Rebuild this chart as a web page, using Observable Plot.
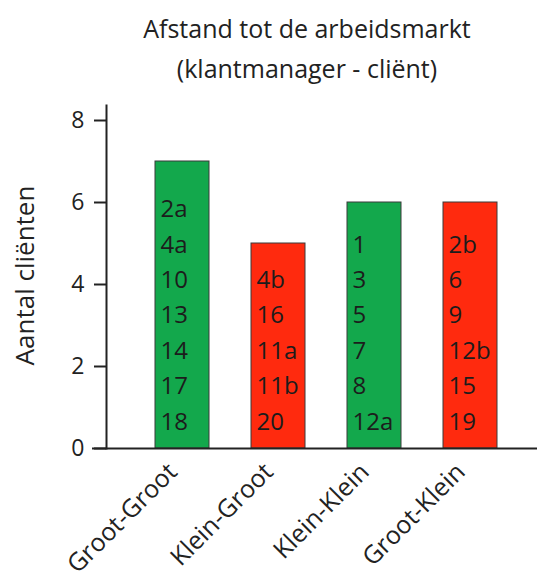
<!DOCTYPE html>
<html><head><meta charset="utf-8">
<script src="https://cdn.jsdelivr.net/npm/d3@7"></script>
<script src="https://cdn.jsdelivr.net/npm/@observablehq/plot@0.6"></script>
<style>
body{margin:0;background:#fff;font-family:"Open Sans",sans-serif;}
#title{width:537px;height:95px;box-sizing:border-box;padding:8px 0 0 77px;text-align:center;font-size:25px;line-height:40px;color:#222;}
</style></head><body>
<div id="title"><div>Afstand tot de arbeidsmarkt</div><div>(klantmanager - cliënt)</div></div>
<div id="chart"></div>
<script>
const categories = ["Groot-Groot","Klein-Groot","Klein-Klein","Groot-Klein"];
const counts = [7,5,6,6];
const groups = ["groen","rood","groen","rood"];
const clientLabels = [
 ["2a","4a","10","13","14","17","18"],
 ["4b","16","11a","11b","20"],
 ["1","3","5","7","8","12a"],
 ["2b","6","9","12b","15","19"]
];
const yTicks = [0,2,4,6,8];
const yLabel = "Aantal cliënten";
const colors = {groen:"#13a84c", rood:"#ff2a0e"};

const data = categories.map((c,i)=>({category:c,count:counts[i],group:groups[i],labels:clientLabels[i].join("\n")}));

const plot = Plot.plot({
  width:537, height:483,
  marginTop:25, marginBottom:130, marginLeft:106, marginRight:0,
  style:{fontFamily:'"Open Sans", sans-serif', fontSize:"24px", color:"#222", background:"#fff"},
  x:{domain:categories, range:[133,518], paddingInner:0.44, paddingOuter:0.22, axis:null},
  y:{domain:[0,8], axis:null},
  color:{domain:Object.keys(colors), range:Object.values(colors)},
  marks:[
    Plot.barY(data,{x:"category", y:"count", fill:"group", stroke:"#3a3a3a", strokeWidth:1}),
    Plot.text(data,{x:"category", y:0, text:"labels", textAnchor:"start", lineAnchor:"bottom", lineHeight:1.475, dx:-22, dy:-19, fill:"#1c1c1c", fontSize:24}),
    Plot.axisY({ticks:yTicks, tickSize:12, tickPadding:10, fontSize:23, strokeWidth:2, tickFormat:d=>d, label:null}),
    Plot.frame({anchor:"left", insetTop:-15, strokeWidth:2}),
    Plot.ruleY([0],{insetLeft:-14, strokeWidth:2}),
    Plot.text(categories,{x:d=>d, frameAnchor:"bottom", rotate:-45, textAnchor:"end", dx:-4, dy:25, fontSize:25, fill:"#222"}),
    Plot.text([yLabel],{frameAnchor:"left", textAnchor:"middle", rotate:-90, dx:-81, dy:-9, fontSize:26, fill:"#222"})
  ]
});
document.getElementById("chart").appendChild(plot);
</script>
</body></html>
